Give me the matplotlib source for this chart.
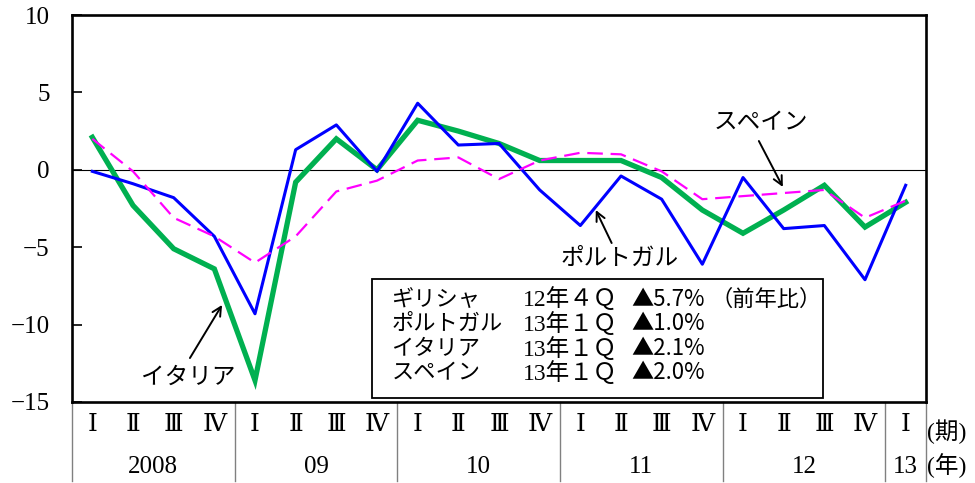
import matplotlib
matplotlib.use("Agg")
import matplotlib.pyplot as plt
from matplotlib.patches import Rectangle
import numpy as np

quarters = ["Ⅰ", "Ⅱ", "Ⅲ", "Ⅳ"] * 5 + ["Ⅰ"]
years = ["2008", "09", "10", "11", "12", "13"]
year_sizes = [4, 4, 4, 4, 4, 1]

italy = [2.1, -2.3, -5.1, -6.4, -13.6, -0.8, 2.0, 0.0, 3.2, 2.5, 1.7,
         0.6, 0.6, 0.6, -0.5, -2.6, -4.1, -2.6, -1.0, -3.7, -2.1]
portugal = [-0.1, -0.9, -1.8, -4.3, -9.3, 1.3, 2.9, -0.1, 4.3, 1.6, 1.7,
            -1.3, -3.6, -0.4, -1.9, -6.1, -0.5, -3.8, -3.6, -7.1, -1.0]
spain = [2.0, -0.1, -3.1, -4.3, -6.0, -4.3, -1.4, -0.7, 0.6, 0.8, -0.6,
         0.6, 1.1, 1.0, -0.1, -1.9, -1.7, -1.5, -1.3, -3.1, -2.0]

table_names = ["ギリシャ", "ポルトガル", "イタリア", "スペイン"]
table_periods = ["12年４Ｑ", "13年１Ｑ", "13年１Ｑ", "13年１Ｑ"]
table_values = ["▲5.7%", "▲1.0%", "▲2.1%", "▲2.0%"]

SERIF = ["Liberation Serif", "DejaVu Serif", "Noto Sans CJK JP"]
ROMAN = ["DejaVu Serif", "Noto Sans CJK JP"]
JP = ["Noto Sans CJK JP", "DejaVu Sans"]
MIX = ["Liberation Serif", "Noto Sans CJK JP", "DejaVu Sans"]

fig = plt.figure(figsize=(9.75, 4.83), dpi=100)
ax = fig.add_axes([72 / 975, 81 / 483, 854 / 975, 387 / 483])

x = np.arange(len(quarters))
ax.plot(x, italy, color="#00B050", lw=3.8, solid_joinstyle="miter", zorder=3)
ax.plot(x, portugal, color="#0000FF", lw=2.2, zorder=4)
ax.plot(x, spain, color="#FF00FF", lw=1.6, dashes=(7, 3.5), zorder=5)
ax.axhline(0, color="black", lw=0.8, zorder=2)

ax.set_xlim(-0.5, len(quarters) - 0.5)
ax.set_ylim(-15, 10)
ax.set_yticks([-15, -10, -5, 0, 5, 10])
ax.set_yticklabels(["−15", "−10", "−5", "0", "5", "10"], family=SERIF, fontsize=18)
ax.tick_params(axis="y", direction="in", length=7, width=1.2, pad=16)
ax.set_xticks(x)
ax.set_xticklabels(quarters, family=ROMAN, fontsize=18)
ax.tick_params(axis="x", length=0, pad=8)
for s in ax.spines.values():
    s.set_linewidth(1.9)

# separators under the axis
tr = ax.get_xaxis_transform()
bounds = [-0.5]
for n in year_sizes:
    bounds.append(bounds[-1] + n)
for b in bounds:
    ax.plot([b, b], [0, -0.205], transform=tr, color="#808080", lw=1.0,
            clip_on=False)
for i, (yname, n) in enumerate(zip(years, year_sizes)):
    c = (bounds[i] + bounds[i + 1]) / 2
    ax.text(c, -0.168, yname, transform=tr, ha="center", va="center",
            family=SERIF, fontsize=18)

ax.text(1.001, -0.078, "(期)", transform=ax.transAxes, ha="left", va="center",
        family=MIX, fontsize=17)
ax.text(1.001, -0.165, "(年)", transform=ax.transAxes, ha="left", va="center",
        family=MIX, fontsize=17)

# annotations
arrow = dict(arrowstyle="->", color="black", lw=1.4, shrinkA=0, shrinkB=0,
             mutation_scale=16)
ax.annotate("", xy=(3.19, -8.73), xytext=(2.40, -12.16), arrowprops=arrow)
ax.text(2.35, -13.4, "イタリア", ha="center", va="center", family=JP, fontsize=17)
ax.annotate("", xy=(12.38, -2.6), xytext=(12.77, -4.73), arrowprops=arrow)
ax.text(12.97, -5.7, "ポルトガル", ha="center", va="center", family=JP, fontsize=17)
ax.annotate("", xy=(16.98, -1.11), xytext=(16.39, 1.86), arrowprops=arrow)
ax.text(16.45, 3.02, "スペイン", ha="center", va="center", family=JP, fontsize=17)

# info box
ax.add_patch(Rectangle((0.351, 0.0103), 0.528, 0.308, transform=ax.transAxes,
                       fill=True, facecolor="white", edgecolor="black",
                       lw=1.3, zorder=6))
rows_y = [0.266, 0.202, 0.137, 0.075]
for yy, nm, pr, vl in zip(rows_y, table_names, table_periods, table_values):
    ax.text(0.374, yy, nm, transform=ax.transAxes, ha="left", va="center",
            family=JP, fontsize=16, zorder=7)
    ax.text(0.528, yy, pr, transform=ax.transAxes, ha="left", va="center",
            family=MIX, fontsize=17, zorder=7)
    ax.text(0.655, yy, vl, transform=ax.transAxes, ha="left", va="center",
            family=JP, fontsize=16, zorder=7)
ax.text(0.748, rows_y[0], "（前年比）", transform=ax.transAxes, ha="left",
        va="center", family=JP, fontsize=16, zorder=7)

fig.savefig("out.png", dpi=100)
